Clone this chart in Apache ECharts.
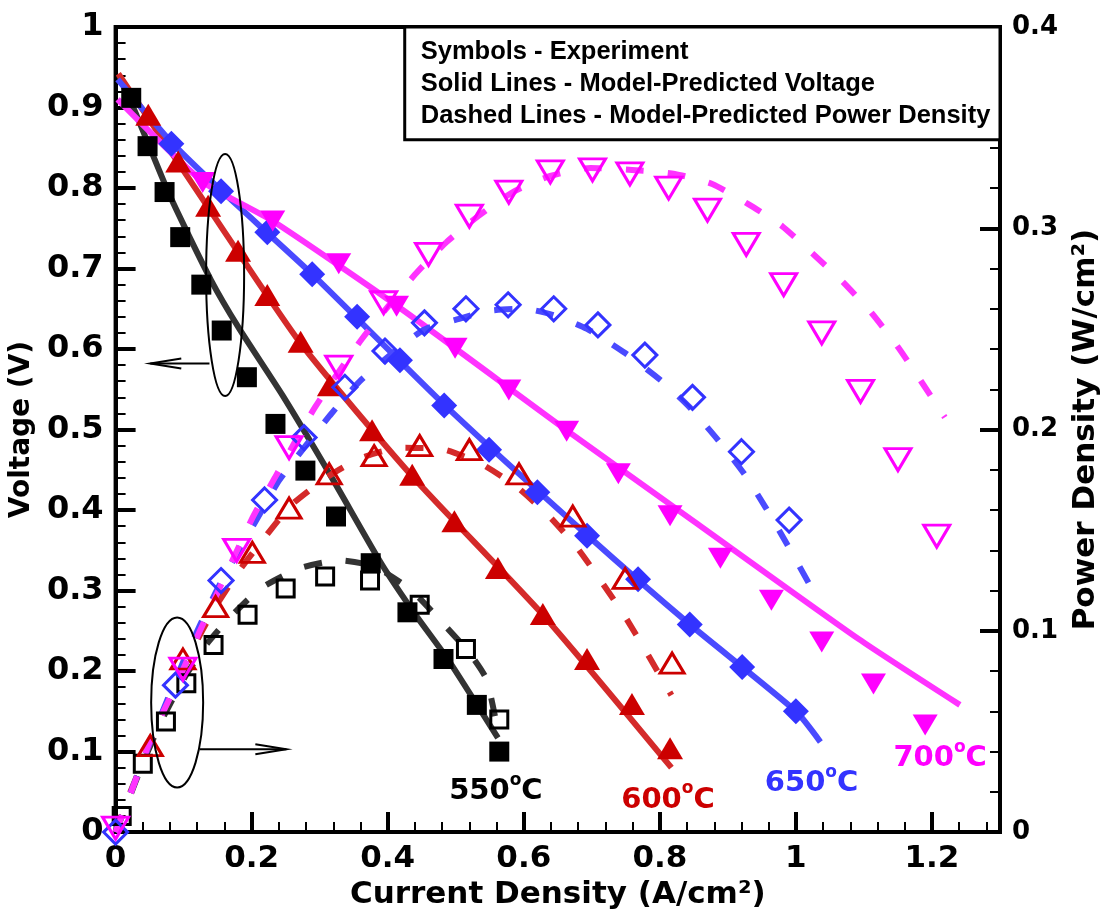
<!DOCTYPE html>
<html>
<head>
<meta charset="utf-8">
<script src="https://cdn.jsdelivr.net/npm/echarts@6/dist/echarts.min.js"></script>
<style>
  html, body { margin: 0; padding: 0; background: #fff; }
  #chart { width: 1110px; height: 915px; }
</style>
</head>
<body>
<div id="chart"></div>
<script>
// experiment - voltage (filled symbols)
const v550Exp = [[0.023,0.912],[0.047,0.852],[0.072,0.795],[0.095,0.739],[0.126,0.680],[0.156,0.623],[0.193,0.565],[0.235,0.507],[0.279,0.449],[0.324,0.392],[0.375,0.334],[0.429,0.273],[0.482,0.215],[0.531,0.158],[0.564,0.100]]
const v600Exp = [[0.048,0.891],[0.092,0.833],[0.136,0.778],[0.180,0.722],[0.223,0.667],[0.272,0.609],[0.315,0.555],[0.377,0.499],[0.436,0.444],[0.498,0.386],[0.562,0.328],[0.628,0.271],[0.693,0.215],[0.759,0.159],[0.815,0.104]]
const v650Exp = [[0.082,0.855],[0.155,0.796],[0.223,0.745],[0.289,0.693],[0.355,0.640],[0.418,0.586],[0.483,0.530],[0.549,0.475],[0.620,0.422],[0.693,0.368],[0.768,0.314],[0.844,0.258],[0.921,0.205],[1.000,0.150]]
const v700Exp = [[0.128,0.807],[0.231,0.759],[0.328,0.706],[0.413,0.653],[0.499,0.601],[0.578,0.549],[0.663,0.498],[0.739,0.445],[0.815,0.393],[0.889,0.340],[0.964,0.288],[1.038,0.236],[1.114,0.184],[1.190,0.133]]

// experiment - power density (open symbols)
const p550Exp = [[0.009,0.008],[0.040,0.034],[0.074,0.055],[0.104,0.074],[0.144,0.093],[0.194,0.108],[0.250,0.121],[0.308,0.127],[0.374,0.125],[0.447,0.113],[0.515,0.091],[0.564,0.056]]
const p600Exp = [[0.051,0.043],[0.099,0.086],[0.147,0.112],[0.201,0.139],[0.255,0.161],[0.314,0.178],[0.380,0.187],[0.447,0.192],[0.520,0.190],[0.593,0.178],[0.672,0.157],[0.749,0.126],[0.818,0.084]]
const p650Exp = [[0.0,0.0],[0.088,0.073],[0.155,0.125],[0.219,0.165],[0.277,0.196],[0.337,0.221],[0.396,0.239],[0.454,0.253],[0.515,0.260],[0.577,0.262],[0.644,0.260],[0.709,0.252],[0.778,0.237],[0.848,0.216],[0.920,0.189],[0.990,0.155]]
const p700Exp = [[0.0,0.002],[0.099,0.081],[0.178,0.140],[0.255,0.191],[0.328,0.231],[0.394,0.263],[0.460,0.287],[0.520,0.306],[0.578,0.318],[0.639,0.328],[0.701,0.329],[0.756,0.327],[0.813,0.320],[0.870,0.309],[0.927,0.292],[0.982,0.272],[1.038,0.248],[1.095,0.219],[1.150,0.185],[1.207,0.147]]

// model - voltage (solid lines)
const v550Model = [[0.005,0.94],[0.031,0.89],[0.08,0.79],[0.14,0.686],[0.182,0.625],[0.245,0.543],[0.318,0.44],[0.391,0.333],[0.44,0.271],[0.489,0.214],[0.562,0.117]]
const v600Model = [[0.004,0.942],[0.048,0.887],[0.136,0.776],[0.272,0.607],[0.436,0.442],[0.628,0.27],[0.817,0.08]]
const v650Model = [[0.003,0.935],[0.082,0.857],[0.155,0.797],[0.289,0.693],[0.483,0.531],[0.693,0.369],[0.844,0.258],[1.0,0.150],[1.036,0.112]]
const v700Model = [[0.003,0.91],[0.128,0.808],[0.231,0.759],[0.413,0.654],[0.663,0.499],[0.85,0.386],[1.092,0.24],[1.241,0.158]]

// model - power density (dashed lines)
const p550Model = [[0,0],[0.019,0.016],[0.041,0.035],[0.067,0.055],[0.1,0.076],[0.133,0.093],[0.172,0.108],[0.213,0.121],[0.27,0.131],[0.328,0.135],[0.38,0.132],[0.435,0.12],[0.483,0.103],[0.52,0.089],[0.545,0.076],[0.562,0.05]]
const p600Model = [[0,0],[0.016,0.015],[0.041,0.036],[0.066,0.057],[0.095,0.078],[0.124,0.098],[0.147,0.112],[0.182,0.13],[0.223,0.148],[0.26,0.163],[0.314,0.177],[0.362,0.186],[0.42,0.191],[0.483,0.19],[0.537,0.183],[0.588,0.172],[0.637,0.157],[0.679,0.141],[0.715,0.124],[0.749,0.107],[0.781,0.089],[0.817,0.068]]
const p650Model = [[0,0],[0.05,0.044],[0.1,0.085],[0.15,0.121],[0.212,0.158],[0.241,0.175],[0.315,0.207],[0.362,0.225],[0.45,0.249],[0.505,0.255],[0.549,0.259],[0.6,0.26],[0.642,0.257],[0.693,0.25],[0.749,0.238],[0.803,0.224],[0.844,0.211],[0.885,0.195],[0.924,0.178],[0.956,0.161],[0.987,0.143],[1.025,0.12]]
const p700Model = [[0,0],[0.022,0.019],[0.055,0.049],[0.089,0.073],[0.124,0.100],[0.201,0.156],[0.234,0.176],[0.293,0.211],[0.362,0.245],[0.44,0.277],[0.486,0.293],[0.533,0.306],[0.584,0.318],[0.639,0.326],[0.698,0.330],[0.759,0.329],[0.822,0.327],[0.877,0.322],[0.93,0.312],[0.98,0.301],[1.026,0.287],[1.07,0.273],[1.111,0.258],[1.15,0.241],[1.184,0.224],[1.219,0.206]]

const temps = ['550', '600', '650', '700']
const tempPos = [[0.559,0.054],[0.812,0.043],[1.023,0.063],[1.212,0.094]]
const colors = ['#000000', '#cc0000', '#3333ff', '#ff00ff']
const lineColors = ['#333333', '#d42a2a', '#4a4aff', '#ff33ff']
const legendLines = ['Symbols - Experiment', 'Solid Lines - Model-Predicted Voltage', 'Dashed Lines - Model-Predicted Power Density']

const numFont = 'DejaVu Sans'

let chart = echarts.init(document.getElementById('chart'))

function solid (data, i) {
  return {
    type: 'line', data: data, yAxisIndex: 0, showSymbol: false, smooth: 0.2, z: 2,
    lineStyle: {color: lineColors[i], width: 6}
  }
}
function dashed (data, i) {
  return {
    type: 'line', data: data, yAxisIndex: 1, showSymbol: false, smooth: 0.2, z: 2,
    lineStyle: {color: lineColors[i], width: 6, type: [18, 24]}
  }
}
function filled (data, i, symbol, size, rotate) {
  return {
    type: 'scatter', data: data, yAxisIndex: 0, symbol: symbol, symbolSize: size, symbolRotate: rotate || 0, z: 3,
    itemStyle: {color: colors[i], opacity: 1}
  }
}
function open (data, i, symbol, size, rotate) {
  return {
    type: 'scatter', data: data, yAxisIndex: 1, symbol: symbol, symbolSize: size, symbolRotate: rotate || 0, z: 3,
    itemStyle: {color: 'rgba(255,255,255,0)', borderColor: colors[i], borderWidth: 3, opacity: 1}
  }
}

let option = {
  animation: false,
  backgroundColor: '#fff',
  grid: {left: 112, right: 110, top: 27, bottom: 79, show: true, borderColor: '#000', borderWidth: 4, backgroundColor: 'transparent'},
  xAxis: {
    type: 'value', min: 0, max: 1.3, interval: 0.2,
    name: 'Current Density (A/cm²)', nameLocation: 'middle', nameGap: 38,
    nameTextStyle: {fontFamily: numFont, fontWeight: 'bold', fontSize: 31, color: '#000'},
    axisLine: {lineStyle: {color: '#000', width: 4}},
    axisTick: {inside: true, length: 20, lineStyle: {color: '#000', width: 4}},
    minorTick: {show: true, splitNumber: 5, length: 10, lineStyle: {color: '#000', width: 2}},
    splitLine: {show: false},
    axisLabel: {
      fontFamily: numFont, fontWeight: 'bold', fontSize: 31, color: '#000', margin: 11,
      formatter: function (v) { return v > 1.25 ? '' : String(Math.round(v * 10) / 10) }
    }
  },
  yAxis: [
    {
      type: 'value', min: 0, max: 1, interval: 0.1, position: 'left',
      name: 'Voltage (V)', nameLocation: 'middle', nameGap: 64, nameRotate: 90,
      nameTextStyle: {fontFamily: numFont, fontWeight: 'bold', fontSize: 28, color: '#000'},
      axisLine: {lineStyle: {color: '#000', width: 4}},
      axisTick: {inside: true, length: 20, lineStyle: {color: '#000', width: 4}},
      minorTick: {show: true, splitNumber: 5, length: 10, lineStyle: {color: '#000', width: 2}},
      splitLine: {show: false},
      axisLabel: {
        fontFamily: numFont, fontWeight: 'bold', fontSize: 32, color: '#000', margin: 12,
        formatter: function (v) { return String(Math.round(v * 10) / 10) }
      }
    },
    {
      type: 'value', min: 0, max: 0.4, interval: 0.1, position: 'right',
      name: 'Power Density (W/cm²)', nameLocation: 'middle', nameGap: 70, nameRotate: 90,
      nameTextStyle: {fontFamily: numFont, fontWeight: 'bold', fontSize: 31, color: '#000'},
      axisLine: {lineStyle: {color: '#000', width: 4}},
      axisTick: {inside: true, length: 20, lineStyle: {color: '#000', width: 4}},
      minorTick: {show: true, splitNumber: 5, length: 10, lineStyle: {color: '#000', width: 2}},
      splitLine: {show: false},
      axisLabel: {
        fontFamily: numFont, fontWeight: 'bold', fontSize: 26, color: '#000', margin: 12,
        formatter: function (v) { return String(Math.round(v * 10) / 10) }
      }
    }
  ],
  series: [
    solid(v550Model, 0), solid(v600Model, 1), solid(v650Model, 2), solid(v700Model, 3),
    dashed(p550Model, 0), dashed(p600Model, 1), dashed(p650Model, 2), dashed(p700Model, 3),
    filled(v550Exp, 0, 'rect', 20), filled(v600Exp, 1, 'triangle', [26, 22]),
    filled(v650Exp, 2, 'diamond', 26), filled(v700Exp, 3, 'triangle', [25, 21], 180),
    open(p550Exp, 0, 'rect', 17), open(p600Exp, 1, 'triangle', [24, 20]),
    open(p650Exp, 2, 'diamond', 24), open(p700Exp, 3, 'triangle', [26, 22], 180)
  ]
}
chart.setOption(option)

// annotations: legend box, ellipses with arrows, temperature labels
function px (x, y) { return chart.convertToPixel({xAxisIndex: 0, yAxisIndex: 0}, [x, y]) }

let gl = px(0, 1)
let gr = px(1.3, 0)
let boxL = px(0.425, 1)[0]
let boxB = px(0, 0.86)[1]
let graphic = []
graphic.push({type: 'rect', z: 10, shape: {x: boxL, y: gl[1], width: gr[0] - boxL, height: boxB - gl[1]},
  style: {fill: '#fff', stroke: '#000', lineWidth: 3}})
legendLines.forEach(function (t, k) {
  graphic.push({type: 'text', z: 11, x: boxL + 16, y: gl[1] + 25 + k * 32,
    style: {text: t, fill: '#000', font: 'bold 25.5px "Liberation Sans", Arial', textAlign: 'left', textVerticalAlign: 'middle'}})
})

// ellipse around voltage curves -> arrow to left axis
let e1 = px(0.161, 0.692)
graphic.push({type: 'ellipse', z: 9, shape: {cx: e1[0], cy: e1[1], rx: 19, ry: 121}, style: {fill: 'none', stroke: '#000', lineWidth: 2}})
let a1 = px(0.138, 0.582)
let a1t = px(0.051, 0.582)
graphic.push({type: 'line', z: 9, shape: {x1: a1[0], y1: a1[1], x2: a1t[0], y2: a1t[1]}, style: {stroke: '#000', lineWidth: 2}})
graphic.push({type: 'polyline', z: 9, shape: {points: [[a1t[0] + 31, a1t[1] - 5], [a1t[0], a1t[1]], [a1t[0] + 31, a1t[1] + 5]]}, style: {fill: 'none', stroke: '#000', lineWidth: 2}})

// ellipse around power curves -> arrow to right axis
let e2 = px(0.0905, 0.161)
graphic.push({type: 'ellipse', z: 9, shape: {cx: e2[0], cy: e2[1], rx: 26, ry: 85}, style: {fill: 'none', stroke: '#000', lineWidth: 2}})
let a2 = px(0.124, 0.103)
let a2t = px(0.251, 0.103)
graphic.push({type: 'line', z: 9, shape: {x1: a2[0], y1: a2[1], x2: a2t[0], y2: a2t[1]}, style: {stroke: '#000', lineWidth: 2}})
graphic.push({type: 'polyline', z: 9, shape: {points: [[a2t[0] - 31, a2t[1] - 5], [a2t[0], a2t[1]], [a2t[0] - 31, a2t[1] + 5]]}, style: {fill: 'none', stroke: '#000', lineWidth: 2}})

// temperature labels with superscript "o"
temps.forEach(function (t, k) {
  let p = px(tempPos[k][0], tempPos[k][1])
  graphic.push({type: 'text', z: 11, x: p[0], y: p[1],
    style: {
      text: '{n|' + t + '}{s|o}{n|C}', fill: colors[k], align: 'center', verticalAlign: 'middle',
      rich: {
        n: {fontFamily: numFont, fontWeight: 'bold', fontSize: 29, fill: colors[k], lineHeight: 34, verticalAlign: 'bottom'},
        s: {fontFamily: numFont, fontWeight: 'bold', fontSize: 17, fill: colors[k], lineHeight: 34, verticalAlign: 'top', padding: [0, 0, 12, 0]}
      }
    }})
})

chart.setOption({graphic: graphic})
</script>
</body>
</html>
